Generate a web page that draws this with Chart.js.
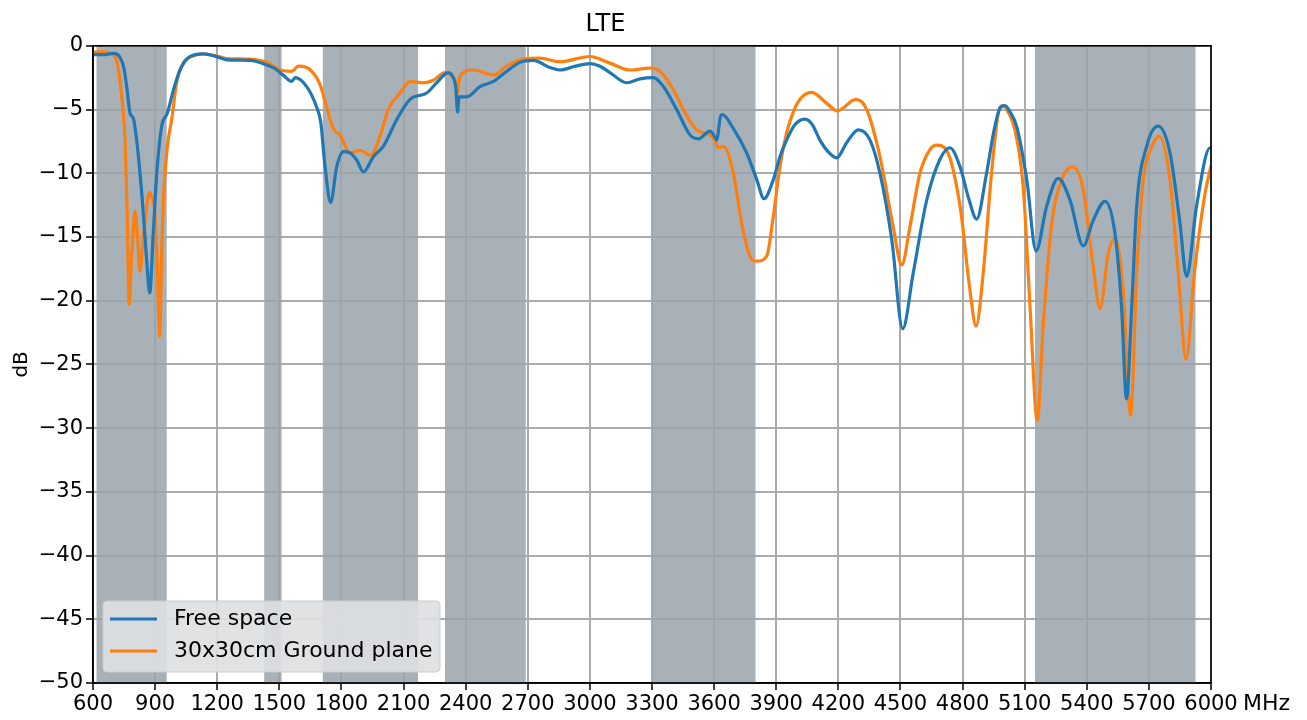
<!DOCTYPE html>
<html>
<head>
<meta charset="utf-8">
<script src="https://cdn.jsdelivr.net/npm/chart.js@4.4.0/dist/chart.umd.min.js"></script>
<style>
html, body { margin: 0; padding: 0; background: #fff; }
#wrap { width: 1307px; height: 720px; position: relative; }
</style>
</head>
<body>
<div id="wrap"><canvas id="lteChart"></canvas></div>
<script>
// Free space (MHz / dB)
const freeFreq = [600, 650, 700, 730, 750, 765, 779, 795, 815, 840, 860, 874, 890, 908, 932, 959, 988, 1020, 1068, 1133,
  1197, 1246, 1358, 1439, 1480, 1519, 1560, 1576, 1632, 1680, 1700, 1721, 1748, 1777, 1809, 1841, 1875, 1906, 1954, 2002,
  2067, 2131, 2212, 2260, 2316, 2340, 2352, 2361, 2368, 2405, 2469, 2534, 2598, 2662, 2727, 2807, 2855, 2930, 3000, 3049,
  3097, 3178, 3242, 3306, 3355, 3419, 3484, 3524, 3580, 3605, 3612, 3630, 3640, 3693, 3757, 3806, 3841, 3886, 3918, 3950,
  3990, 4039, 4075, 4111, 4150, 4192, 4240, 4297, 4353, 4401, 4458, 4511, 4562, 4627, 4691, 4739, 4788, 4830, 4868, 4916,
  4950, 4981, 5005, 5030, 5061, 5110, 5155, 5206, 5262, 5319, 5383, 5431, 5488, 5536, 5568, 5592, 5617, 5641, 5689, 5745,
  5802, 5850, 5882, 5930, 5995, 6000];
const freeDb = [-0.7, -0.7, -0.6, -0.9, -1.8, -3.5, -5.3, -5.7, -8, -12.5, -17, -19.4, -15, -10, -6.3, -5.3, -3.5, -1.9, -0.85, -0.63,
  -0.85, -1.1, -1.15, -1.5, -1.8, -2.3, -2.8, -2.5, -3.2, -4.8, -6.0, -9.5, -12.3, -9.5, -8.3, -8.4, -9.0, -9.9, -8.7, -7.9,
  -5.8, -4.2, -3.7, -2.9, -2.1, -2.5, -3.2, -5.2, -4.0, -4.0, -3.2, -2.8, -2.0, -1.3, -1.15, -1.7, -1.9, -1.6, -1.4, -1.6,
  -2.1, -2.9, -2.6, -2.5, -3.2, -5.0, -7.0, -7.3, -6.7, -7.2, -7.4, -5.6, -5.4, -6.5, -8.4, -10.5, -12.0, -10.5, -8.7, -7.4,
  -6.2, -5.75, -6.2, -7.4, -8.3, -8.8, -7.6, -6.6, -7.4, -10.0, -15.2, -22.2, -17.8, -12.1, -8.9, -8.0, -9.5, -12, -13.6, -10,
  -6.8, -4.9, -4.7, -5.2, -6.3, -10.5, -16.1, -12.6, -10.4, -12.1, -15.7, -13.7, -12.2, -14.7, -20.5, -27.7, -20.5, -12.6, -7.9, -6.3,
  -8.4, -13.9, -18.1, -12.6, -8.0, -8.0];

// 30x30cm Ground plane (MHz / dB)
const groundFreq = [600, 650, 698, 715, 730, 745, 755, 765, 775, 785, 792, 803, 815, 827, 840, 851, 872, 887, 899, 910,
  922, 932, 943, 959, 980, 1004, 1036, 1084, 1133, 1197, 1246, 1358, 1455, 1503, 1560, 1592, 1632, 1680, 1700, 1728,
  1761, 1793, 1841, 1890, 1941, 1986, 2026, 2083, 2131, 2196, 2244, 2300, 2340, 2355, 2361, 2370, 2381, 2437, 2534, 2598,
  2679, 2759, 2855, 3000, 3097, 3194, 3290, 3339, 3403, 3468, 3516, 3580, 3604, 3620, 3645, 3693, 3733, 3773, 3806, 3854,
  3885, 3918, 3950, 3980, 4015, 4071, 4143, 4195, 4285, 4337, 4401, 4465, 4506, 4546, 4594, 4640, 4675, 4723, 4788, 4836,
  4865, 4900, 4940, 4981, 4997, 5020, 5053, 5094, 5126, 5161, 5190, 5231, 5279, 5332, 5383, 5431, 5464, 5504, 5536, 5576,
  5612, 5641, 5673, 5714, 5750, 5802, 5842, 5880, 5920, 5969, 6000];
const groundDb = [-0.5, -0.47, -0.7, -1.2, -2.7, -5, -7.4, -13, -20.3, -17, -15.2, -13.0, -15, -17.7, -15.5, -13.9, -11.5, -12, -13.1, -17,
  -22.8, -16, -11.3, -7.9, -5.8, -2.9, -1.36, -0.78, -0.63, -0.8, -1.0, -1.05, -1.4, -1.9, -2.0, -1.6, -1.7, -2.5, -3.2, -4.8,
  -6.5, -7.0, -8.4, -8.2, -8.6, -7.1, -5.0, -3.7, -2.8, -2.9, -2.7, -2.1, -2.5, -3.0, -3.7, -2.6, -2.2, -1.9, -2.3, -1.6,
  -1.05, -0.97, -1.25, -0.84, -1.36, -1.9, -1.75, -2.0, -3.45, -5.5, -6.6, -7.0, -7.4, -8.0, -7.9, -10.0, -13.9, -16.5, -16.9, -16.5,
  -13.5, -9.5, -6.85, -5.3, -4.2, -3.66, -4.5, -5.1, -4.2, -5.0, -8.7, -14.2, -17.2, -14.2, -10.0, -8.2, -7.8, -8.2, -12.6, -19.2,
  -22.0, -17.8, -10.0, -4.8, -4.7, -5.2, -6.6, -11.3, -20.5, -29.4, -21.8, -13.9, -10.5, -9.5, -11.3, -17.3, -20.6, -16.3, -15.1, -19.2,
  -29.0, -17.8, -10.5, -7.9, -7.1, -10.5, -17.8, -24.6, -17.8, -11.8, -9.4];

// LTE bands (shaded)
const bandStart = [617, 1427, 1710, 2300, 3300, 5150];
const bandEnd = [956, 1511, 2170, 2690, 3800, 5925];

const seriesNames = ["Free space", "30x30cm Ground plane"];
const seriesColors = ["#1f77b4", "#ff7f0e"];

const FONT = "'DejaVu Sans', sans-serif";

function toPoints(xs, ys) {
    return xs.map((x, i) => ({ x: x, y: ys[i] }));
}

// plain numbers, with a real minus sign like matplotlib
function tickText(value) {
    return String(value).replace('-', '\u2212');
}

const bandsPlugin = {
    id: 'bands',
    beforeDatasetsDraw(chart) {
        const { ctx, chartArea, scales } = chart;
        ctx.save();
        ctx.fillStyle = 'rgba(153,163,170,0.85)';
        for (let i = 0; i < bandStart.length; i++) {
            const x0 = scales.x.getPixelForValue(bandStart[i]);
            const x1 = scales.x.getPixelForValue(bandEnd[i]);
            ctx.fillRect(x0, chartArea.top, x1 - x0, chartArea.bottom - chartArea.top);
        }
        ctx.restore();
    }
};

const extrasPlugin = {
    id: 'extras',
    afterDraw(chart) {
        const { ctx, chartArea } = chart;
        ctx.save();
        // frame
        ctx.strokeStyle = '#000';
        ctx.lineWidth = 1.6;
        ctx.strokeRect(chartArea.left, chartArea.top, chartArea.right - chartArea.left, chartArea.bottom - chartArea.top);

        // unit next to the last tick
        ctx.fillStyle = '#000';
        ctx.font = '22px ' + FONT;
        ctx.textAlign = 'left';
        ctx.textBaseline = 'middle';
        ctx.fillText('MHz', chartArea.right + 32, chartArea.bottom + 21);

        // legend box
        const lx = chartArea.left + 10, ly = chartArea.bottom - 82, lw = 337, lh = 71;
        ctx.beginPath();
        ctx.roundRect(lx, ly, lw, lh, 4);
        ctx.fillStyle = 'rgba(221,224,226,0.92)';
        ctx.fill();
        ctx.strokeStyle = '#cccccc';
        ctx.lineWidth = 1;
        ctx.stroke();
        for (let i = 0; i < seriesNames.length; i++) {
            const yy = ly + 18 + i * 32;
            ctx.beginPath();
            ctx.moveTo(lx + 7, yy);
            ctx.lineTo(lx + 54, yy);
            ctx.strokeStyle = seriesColors[i];
            ctx.lineWidth = 3;
            ctx.stroke();
            ctx.fillStyle = '#000';
            ctx.fillText(seriesNames[i], lx + 71, yy);
        }
        ctx.restore();
    }
};

const ctx = document.getElementById('lteChart');
const lteChart = new Chart(ctx, {
    type: 'line',
    data: {
        datasets: [{
            label: seriesNames[0],
            data: toPoints(freeFreq, freeDb),
            borderColor: seriesColors[0],
            borderWidth: 3.2,
            pointRadius: 0,
            cubicInterpolationMode: 'monotone'
        }, {
            label: seriesNames[1],
            data: toPoints(groundFreq, groundDb),
            borderColor: seriesColors[1],
            borderWidth: 3.2,
            pointRadius: 0,
            cubicInterpolationMode: 'monotone'
        }]
    },
    options: {
        responsive: true,
        maintainAspectRatio: false,
        animation: false,
        layout: { padding: { left: 0, right: 96, top: 0, bottom: 0 } },
        plugins: {
            legend: { display: false },
            tooltip: { enabled: false },
            title: {
                display: true,
                text: 'LTE',
                color: '#000',
                font: { family: FONT, size: 24, weight: 'normal' },
                padding: { top: 10, bottom: 7 }
            }
        },
        scales: {
            x: {
                type: 'linear',
                min: 600,
                max: 6000,
                afterFit(scale) { scale.height = 37; },
                ticks: {
                    stepSize: 300,
                    autoSkip: false,
                    maxRotation: 0,
                    color: '#000',
                    padding: 2,
                    font: { family: FONT, size: 21 },
                    callback: tickText
                },
                grid: { color: '#ababab', lineWidth: 2, tickColor: '#000', tickWidth: 1.5, tickLength: 7 },
                border: { color: '#000', width: 1.6 }
            },
            y: {
                min: -50,
                max: 0,
                afterFit(scale) { scale.width = 93; },
                ticks: {
                    stepSize: 5,
                    color: '#000',
                    padding: 3,
                    font: { family: FONT, size: 21 },
                    callback: tickText
                },
                title: {
                    display: true,
                    text: 'dB',
                    color: '#000',
                    font: { family: FONT, size: 20 },
                    padding: { top: 10, bottom: 0 }
                },
                grid: { color: '#ababab', lineWidth: 2, tickColor: '#000', tickWidth: 1.5, tickLength: 7 },
                border: { color: '#000', width: 1.6 }
            }
        }
    },
    plugins: [bandsPlugin, extrasPlugin]
});
</script>
</body>
</html>
